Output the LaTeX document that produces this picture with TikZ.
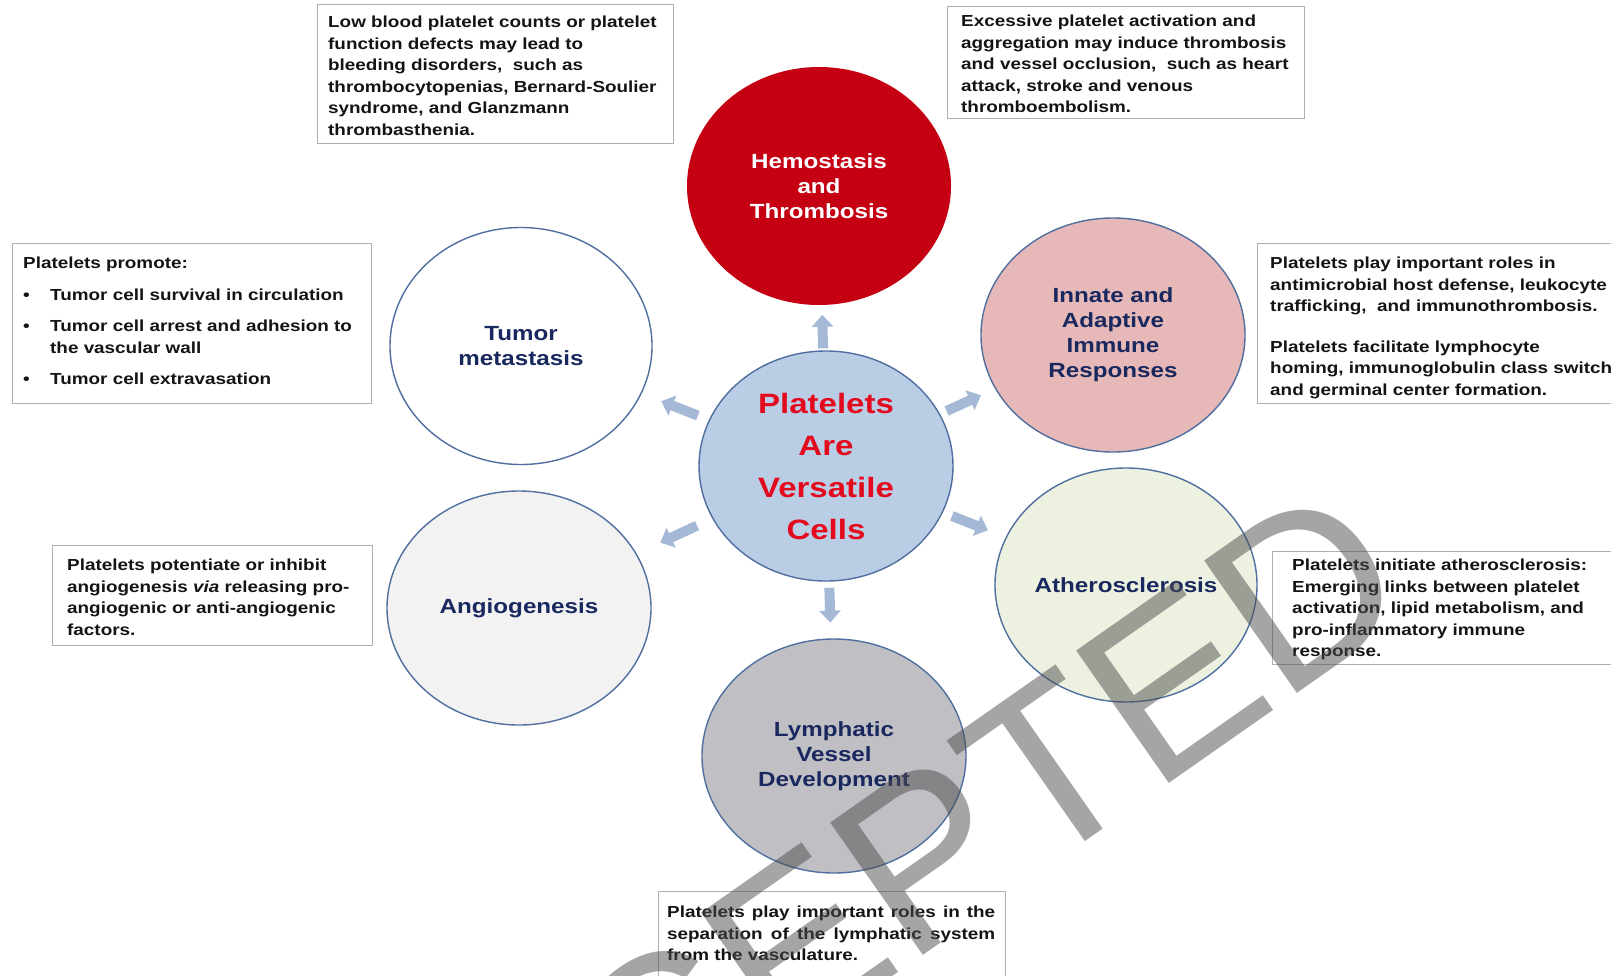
\documentclass[tikz,border=0pt]{standalone}
\usepackage{fontspec}
\setmainfont[FakeStretch=1.18]{Liberation Sans}
\newfontfamily\wmfont{Liberation Sans}
\usetikzlibrary{shapes.geometric,calc,arrows.meta}
\definecolor{hemored}{RGB}{196,0,18}
\definecolor{centerblue}{RGB}{185,205,229}
\definecolor{cirline}{RGB}{80,110,160}
\definecolor{pinkfill}{RGB}{230,185,184}
\definecolor{angiofill}{RGB}{242,242,242}
\definecolor{atherofill}{RGB}{236,241,224}
\definecolor{lymphfill}{RGB}{192,192,196}
\definecolor{navytext}{RGB}{25,40,95}
\definecolor{centertext}{RGB}{228,10,30}
\definecolor{arrowc}{RGB}{165,185,215}
\definecolor{boxline}{RGB}{175,175,175}
\definecolor{bodytext}{RGB}{20,20,20}
\begin{document}
\begin{tikzpicture}[x=1pt,y=-1pt,
  bubble/.style={ellipse, draw=cirline, line width=1.4pt, inner sep=0pt,
    minimum width=264pt, minimum height=235pt, align=center,
    font=\bfseries\fontsize{20.5}{25}\selectfont, text=navytext},
  infobox/.style={draw=boxline, line width=0.9pt, fill=white, inner sep=0pt, anchor=north west},
  infotext/.style={anchor=north west, inner sep=0pt, align=left,
    font=\bfseries\fontsize{16}{21.5}\selectfont, text=bodytext},
  blockarr/.style={draw=arrowc, line width=10pt, -{Triangle[length=12pt,width=21pt]}}
]
\useasboundingbox (0,0) rectangle (1611,975);
\fill[white] (0,0) rectangle (1611,975);

% text boxes
\node[infobox, minimum width=356pt, minimum height=139pt] (b1) at (317,4) {};
\node[infotext] (t1) at (328,16) {Low blood platelet counts or platelet\\function defects may lead to\\bleeding disorders,~ such as\\thrombocytopenias, Bernard-Soulier\\syndrome, and Glanzmann\\thrombasthenia.};

\node[infobox, minimum width=357pt, minimum height=112pt] (b2) at (947,6) {};
\node[infotext] (t2) at (961,15) {Excessive platelet activation and\\aggregation may induce thrombosis\\and vessel occlusion,~ such as heart\\attack, stroke and venous\\thromboembolism.};

\node[infobox, minimum width=400pt, minimum height=160pt] (b3) at (1257,243) {};
\node[infotext] (t3) at (1270,257) {Platelets play important roles in\\antimicrobial host defense, leukocyte\\trafficking,~ and immunothrombosis.\\[19pt]Platelets facilitate lymphocyte\\homing, immunoglobulin class switch\\and germinal center formation.};

\node[infobox, minimum width=359pt, minimum height=160pt] (b4) at (12,243) {};
\node[infotext] (t4) at (23,257) {Platelets promote:\\[10pt]\makebox[27pt][l]{\textbullet}Tumor cell survival in circulation\\[10pt]\makebox[27pt][l]{\textbullet}Tumor cell arrest and adhesion to\\\makebox[27pt][l]{}the vascular wall\\[10pt]\makebox[27pt][l]{\textbullet}Tumor cell extravasation};

\node[infobox, minimum width=320pt, minimum height=100pt] (b5) at (52,545) {};
\node[infotext] (t5) at (67,559) {Platelets potentiate or inhibit\\angiogenesis \textit{via} releasing pro-\\angiogenic or anti-angiogenic\\factors.};

\node[infobox, minimum width=400pt, minimum height=113pt] (b6) at (1272,551) {};
\node[infotext] (t6) at (1292,559) {Platelets initiate atherosclerosis:\\Emerging links between platelet\\activation, lipid metabolism, and\\pro-inflammatory immune\\response.};

\node[infobox, minimum width=347pt, minimum height=100pt] (b7) at (658,891) {};
\node[infotext] (t7) at (667,906) {\makebox[328pt][s]{Platelets play important roles in the}\\\makebox[328pt][s]{separation of the lymphatic system}\\from the vasculature.};

% circles
\node[bubble, draw=none, fill=hemored, text=white, minimum height=238pt] (hemo) at (819,186) {Hemostasis\\and\\Thrombosis};
\node[bubble, fill=white, minimum width=262pt, minimum height=237pt] (tumor) at (521,346) {Tumor\\metastasis};
\node[bubble, fill=pinkfill, minimum height=234pt] (innate) at (1113,335) {Innate and\\Adaptive\\Immune\\Responses};
\node[bubble, fill=angiofill, minimum height=234pt] (angio) at (519,608) {Angiogenesis};
\node[bubble, fill=atherofill, minimum width=262pt, minimum height=234pt] (athero) at (1126,585) {Atherosclerosis};
\node[bubble, fill=lymphfill, minimum height=234pt] (lymph) at (834,756) {Lymphatic\\Vessel\\Development};
\node[bubble, fill=centerblue, minimum width=254pt, minimum height=230pt, text=centertext,
  font=\bfseries\fontsize{28}{42}\selectfont] (center) at (826,466) {Platelets\\Are\\Versatile\\Cells};

% block arrows
\foreach \t in {hemo,tumor,innate,angio,athero,lymph}
  \draw[blockarr] ($(center)!0.42!(\t)$) -- ($(center)!0.54!(\t)$);

% watermark
\node[rotate=35, text=black!70, text opacity=0.5, inner sep=0pt, font=\wmfont\fontsize{235}{235}\selectfont] (wm) at (850,908) {ACCEPTED};
\end{tikzpicture}
\end{document}
